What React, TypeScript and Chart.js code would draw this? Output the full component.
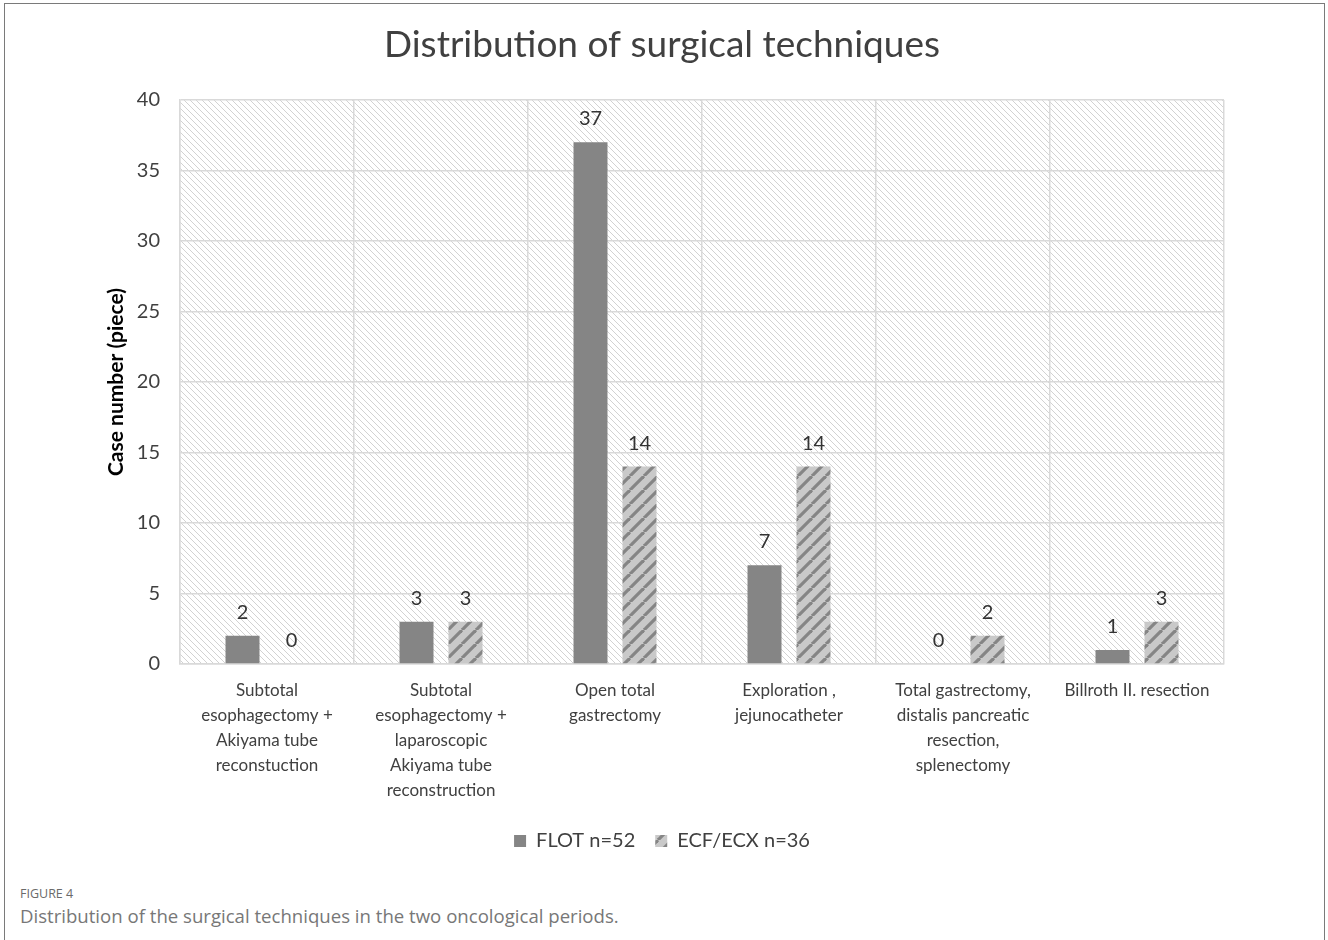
import React, { useEffect, useRef } from "react";
import { Chart, registerables } from "chart.js";

Chart.register(...registerables);

const categories: string[][] = [
  ["Subtotal", "esophagectomy +", "Akiyama tube", "reconstuction"],
  ["Subtotal", "esophagectomy +", "laparoscopic", "Akiyama tube", "reconstruction"],
  ["Open total", "gastrectomy"],
  ["Exploration ,", "jejunocatheter"],
  ["Total gastrectomy,", "distalis pancreatic", "resection,", "splenectomy"],
  ["Billroth II. resection"],
];
const flotValues: number[] = [2, 3, 37, 7, 0, 1];
const ecfValues: number[] = [0, 3, 14, 14, 2, 3];
const seriesNames: string[] = ["FLOT n=52", "ECF/ECX n=36"];
const yTicks: number[] = [0, 5, 10, 15, 20, 25, 30, 35, 40];

const FONT = "Lato, 'Open Sans', sans-serif";

function makeBarPattern(): CanvasPattern | string {
  const T = 14;
  const c = document.createElement("canvas");
  c.width = T;
  c.height = T;
  const ctx = c.getContext("2d");
  if (!ctx) return "#c8c8c8";
  ctx.fillStyle = "#c9c9c9";
  ctx.fillRect(0, 0, T, T);
  ctx.strokeStyle = "#858585";
  ctx.lineWidth = 3.2;
  for (const k of [-T, 0, T]) {
    ctx.beginPath();
    ctx.moveTo(k, T);
    ctx.lineTo(k + T, 0);
    ctx.stroke();
  }
  return ctx.createPattern(c, "repeat") || "#c8c8c8";
}

function makeBgPattern(): CanvasPattern | string {
  const T = 6;
  const c = document.createElement("canvas");
  c.width = T;
  c.height = T;
  const ctx = c.getContext("2d");
  if (!ctx) return "#fff";
  ctx.fillStyle = "#ffffff";
  ctx.fillRect(0, 0, T, T);
  ctx.fillStyle = "#d2d2d2";
  for (let i = 0; i < T; i++) ctx.fillRect(i, i, 1, 1);
  return ctx.createPattern(c, "repeat") || "#fff";
}

export default function App() {
  const ref = useRef<HTMLCanvasElement | null>(null);

  useEffect(() => {
    document.body.style.margin = "0";
    const canvas = ref.current;
    if (!canvas) return;
    const barPattern = makeBarPattern();
    const bgPattern = makeBgPattern();

    const bgPlugin = {
      id: "bgHatch",
      beforeDraw(chart: any) {
        const { ctx, chartArea } = chart;
        ctx.save();
        ctx.fillStyle = bgPattern;
        ctx.fillRect(chartArea.left, chartArea.top, chartArea.right - chartArea.left, chartArea.bottom - chartArea.top);
        ctx.restore();
      },
    };

    const labelPlugin = {
      id: "valueLabels",
      afterDatasetsDraw(chart: any) {
        const { ctx } = chart;
        ctx.save();
        ctx.font = `20px ${FONT}`;
        ctx.fillStyle = "#333333";
        ctx.textAlign = "center";
        ctx.textBaseline = "alphabetic";
        chart.data.datasets.forEach((ds: any, di: number) => {
          const meta = chart.getDatasetMeta(di);
          meta.data.forEach((bar: any, i: number) => {
            ctx.fillText(String(ds.data[i]), bar.x, bar.y - 17);
          });
        });
        ctx.restore();
      },
    };

    const chart = new Chart(canvas, {
      type: "bar",
      data: {
        labels: categories,
        datasets: [
          {
            label: seriesNames[0],
            data: flotValues,
            backgroundColor: "#858585",
            borderWidth: 0,
            categoryPercentage: 0.563,
            barPercentage: 0.694,
          },
          {
            label: seriesNames[1],
            data: ecfValues,
            backgroundColor: barPattern as any,
            borderWidth: 0,
            categoryPercentage: 0.563,
            barPercentage: 0.694,
          },
        ],
      },
      options: {
        responsive: false,
        animation: false,
        layout: { padding: { left: 100, right: 104, top: 0, bottom: 19 } },
        plugins: {
          title: {
            display: true,
            text: "Distribution of surgical techniques",
            color: "#404040",
            font: { family: FONT, size: 37, weight: "normal", lineHeight: 1.2 },
            padding: { top: 23, bottom: 32.6 },
          },
          legend: {
            position: "bottom",
            labels: {
              color: "#404040",
              font: { family: FONT, size: 20 },
              boxWidth: 12,
              boxHeight: 12,
              padding: 20,
            },
          },
          tooltip: { enabled: false },
        },
        scales: {
          x: {
            grid: { color: "#d9d9d9", lineWidth: 1.5, drawTicks: false, offset: true },
            border: { color: "#d9d9d9", width: 1.5 },
            ticks: {
              color: "#404040",
              font: { family: FONT, size: 17, lineHeight: 1.47 },
              padding: 14,
              maxRotation: 0,
              autoSkip: false,
            },
            afterFit(scale: any) {
              scale.height = 147;
            },
          },
          y: {
            min: 0,
            max: 40,
            afterBuildTicks(scale: any) {
              scale.ticks = yTicks.map((v) => ({ value: v }));
            },
            grid: { color: "#d9d9d9", lineWidth: 1.5, drawTicks: false },
            border: { color: "#d9d9d9", width: 1.5 },
            ticks: {
              color: "#404040",
              font: { family: FONT, size: 20 },
              padding: 20,
            },
            title: {
              display: true,
              text: "Case number (piece)",
              color: "#000000",
              font: { family: FONT, size: 21, weight: "bold" },
              padding: { top: 4, bottom: 0 },
            },
            afterFit(scale: any) {
              scale.width = 80;
            },
          },
        },
      },
      plugins: [bgPlugin, labelPlugin],
    });
    return () => chart.destroy();
  }, []);

  return (
    <div style={{ position: "relative", width: 1328, height: 940, overflow: "hidden", background: "#fff" }}>
      <div
        style={{
          position: "absolute",
          left: 4,
          top: 3,
          width: 1321,
          height: 960,
          border: "1.5px solid #7a7a7a",
          boxSizing: "border-box",
        }}
      />
      <canvas ref={ref} width={1328} height={880} style={{ position: "absolute", left: 0, top: 0 }} />
      <div
        style={{
          position: "absolute",
          left: 20,
          top: 885,
          fontFamily: "'Open Sans', sans-serif",
          fontSize: 12.5,
          color: "#6a6a6a",
        }}
      >
        FIGURE 4
      </div>
      <div
        style={{
          position: "absolute",
          left: 20,
          top: 903,
          fontFamily: "'Open Sans', sans-serif",
          fontSize: 18.6,
          color: "#777777",
        }}
      >
        Distribution of the surgical techniques in the two oncological periods.
      </div>
    </div>
  );
}
